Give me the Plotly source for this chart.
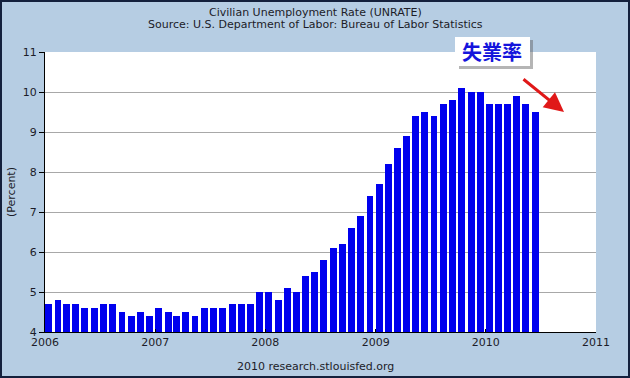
import plotly.graph_objects as go
import pandas as pd

# Monthly civilian unemployment rate (%), Jan 2006 - Jun 2010
rate_2006 = [4.7, 4.8, 4.7, 4.7, 4.6, 4.6, 4.7, 4.7, 4.5, 4.4, 4.5, 4.4]
rate_2007 = [4.6, 4.5, 4.4, 4.5, 4.4, 4.6, 4.6, 4.6, 4.7, 4.7, 4.7, 5.0]
rate_2008 = [5.0, 4.8, 5.1, 5.0, 5.4, 5.5, 5.8, 6.1, 6.2, 6.6, 6.9, 7.4]
rate_2009 = [7.7, 8.2, 8.6, 8.9, 9.4, 9.5, 9.4, 9.7, 9.8, 10.1, 10.0, 10.0]
rate_2010 = [9.7, 9.7, 9.7, 9.9, 9.7, 9.5]

values = rate_2006 + rate_2007 + rate_2008 + rate_2009 + rate_2010
months = pd.date_range("2006-01-01", periods=len(values), freq="MS")

year_ticks = ["2006", "2007", "2008", "2009", "2010", "2011"]
y_ticks = [4, 5, 6, 7, 8, 9, 10, 11]

title_line1 = "Civilian Unemployment Rate (UNRATE)"
title_line2 = "Source: U.S. Department of Labor: Bureau of Labor Statistics"
footer = "2010 research.stlouisfed.org"
y_title = "(Percent)"
callout = "失業率"

W, H = 630, 378
L, R, T, B = 45, 34, 52, 46
PW, PH = W - L - R, H - T - B

def px(x):
    return (x - L) / PW

def py(y):
    return (H - B - y) / PH

BG = "#b6cde3"
FONT = "DejaVu Sans"
TXT = "#1c1c28"

DAY_MS = 86400000
fig = go.Figure()
fig.add_trace(go.Bar(
    x=months, y=values,
    width=23 * DAY_MS, offset=int(0.6 * DAY_MS),
    marker=dict(color="#0000ee", line=dict(width=0)),
    hoverinfo="x+y",
))

shapes = [
    # outer frame
    dict(type="rect", xref="paper", yref="paper",
         x0=px(1), x1=px(W - 1), y0=py(H - 1), y1=py(1),
         line=dict(color="#14203c", width=2), fillcolor="rgba(0,0,0,0)", layer="above"),
    # callout shadow
    dict(type="rect", xref="paper", yref="paper",
         x0=px(459), x1=px(533), y0=py(69), y1=py(40),
         line=dict(width=0), fillcolor="rgba(90,90,90,0.45)", layer="above"),
    # callout box
    dict(type="rect", xref="paper", yref="paper",
         x0=px(455), x1=px(530), y0=py(66), y1=py(37),
         line=dict(width=0), fillcolor="white", layer="above"),
]

annotations = [
    dict(text="<b>" + callout + "</b>", xref="paper", yref="paper", x=px(492), y=py(51),
         showarrow=False, font=dict(family="Noto Sans CJK TC", size=20, color="#1414dc"),
         xanchor="center", yanchor="middle"),
    dict(text="", xref="paper", yref="paper", x=px(564), y=py(112),
         ax=-42, ay=-34, showarrow=True, arrowhead=2, arrowsize=1.3, arrowwidth=3,
         arrowcolor="#e01818"),
    dict(text=y_title, xref="paper", yref="paper", x=px(11), y=py(192),
         showarrow=False, textangle=-90, font=dict(family=FONT, size=11, color=TXT),
         xanchor="center", yanchor="middle"),
    dict(text=footer, xref="paper", yref="paper", x=px(315), y=py(366),
         showarrow=False, font=dict(family=FONT, size=11, color=TXT),
         xanchor="center", yanchor="middle"),
    dict(text=title_line1, xref="paper", yref="paper", x=px(315), y=py(12),
         showarrow=False, font=dict(family=FONT, size=11, color=TXT),
         xanchor="center", yanchor="middle"),
    dict(text=title_line2, xref="paper", yref="paper", x=px(315), y=py(25),
         showarrow=False, font=dict(family=FONT, size=11, color=TXT),
         xanchor="center", yanchor="middle"),
]

fig.update_layout(
    width=W, height=H,
    margin=dict(l=L, r=R, t=T, b=B, pad=0),
    paper_bgcolor=BG, plot_bgcolor="white",
    showlegend=False,
    font=dict(family=FONT, size=11, color=TXT),
    shapes=shapes, annotations=annotations,
    bargap=0,
)
fig.update_xaxes(
    type="date", range=["2006-01-01", "2011-01-01"],
    tickvals=[f"{y}-01-01" for y in year_ticks], ticktext=year_ticks,
    showgrid=False, zeroline=False,
    showline=True, linecolor="black", linewidth=1,
    ticks="inside", ticklen=3, tickcolor="black",
    tickfont=dict(family=FONT, size=11, color=TXT),
)
fig.update_yaxes(
    range=[4, 11], tickvals=y_ticks,
    showgrid=True, gridcolor="#a8a8a8", gridwidth=1, zeroline=False,
    showline=True, linecolor="black", linewidth=1,
    ticks="outside", ticklen=5, tickcolor="black",
    tickfont=dict(family=FONT, size=11, color=TXT),
)

fig.write_html(
    "out.html",
    config={"displayModeBar": False},
    post_script="document.body.style.margin='0';document.body.style.overflow='hidden';",
)
